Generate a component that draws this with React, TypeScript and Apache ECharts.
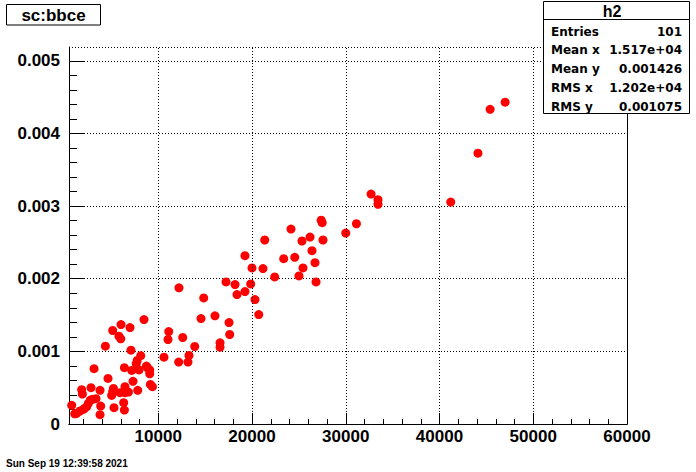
import React, { useEffect, useRef } from "react";
import * as echarts from "echarts";

const xValues = [
  47000, 45400, 44100, 41200, 32700, 33440, 33440, 31140, 30000, 27380,
  27490, 24160, 21360, 25330, 26190, 27570, 26400, 23380, 24560, 19250,
  25440, 26720, 21170, 20000, 22420, 25010, 26830, 17230, 18190, 19860,
  12210, 19250, 18400, 20320, 14850, 20720, 14560, 16050, 17550, 17620,
  11120, 11040, 12610, 13890, 16590, 16590, 10610, 12180, 13280, 13170,
  8480, 6030, 6990, 5140, 5810, 6000, 4360, 7090, 8130, 7750,
  7650, 3150, 6390, 7170, 7950, 8740, 9090, 9090, 4640, 7310,
  1830, 1910, 2830, 3790, 5220, 5140, 5030, 6450, 6450, 5920,
  6820, 7810, 9160, 9380, 3360, 2760, 2550, 2370, 2020, 1650,
  1300, 770, 3860, 5280, 6310, 6390, 3790, 1090, 2150, 3010, 8870,
];

const yValues = [
  0.00443, 0.004332, 0.003728, 0.003055, 0.003165, 0.003087, 0.003025, 0.002757, 0.002629, 0.002805,
  0.002771, 0.002684, 0.002533, 0.002519, 0.002574, 0.002533, 0.002386, 0.002276, 0.002294, 0.002317,
  0.002148, 0.002221, 0.002139, 0.002148, 0.002025, 0.002038, 0.001956, 0.001956, 0.001919, 0.001929,
  0.001874, 0.001823, 0.001782, 0.001713, 0.001736, 0.001507, 0.001452, 0.001489, 0.001397, 0.001232,
  0.001273, 0.001163, 0.001191, 0.001067, 0.001118, 0.001058, 0.00092, 0.000852, 0.000944, 0.000852,
  0.001438, 0.001369, 0.001328, 0.001287, 0.001209, 0.001173, 0.001071, 0.001016, 0.00094, 0.000875,
  0.00083, 0.000761, 0.000775, 0.000738, 0.000745, 0.000797, 0.000745, 0.000692, 0.000628, 0.000587,
  0.000473, 0.000412, 0.0005, 0.000463, 0.00049, 0.000445, 0.000394, 0.000514, 0.000431, 0.000431,
  0.00044, 0.000463, 0.000545, 0.000514, 0.000349, 0.00033, 0.000284, 0.000239, 0.000202, 0.000179,
  0.000147, 0.000257, 0.000247, 0.000225, 0.000294, 0.000192, 0.000129, 0.00014, 0.000216, 0.000339, 0.000772,
];

const X_MIN = 480;
const X_MAX = 60000;
const Y_MIN = 0;
const Y_MAX = 0.00519;
const Y_GRID_INTERVAL = 0.001;

const xMajorTicks = [10000, 20000, 30000, 40000, 50000, 60000];
const xMinorTicks = [
  2000, 4000, 6000, 8000, 12000, 14000, 16000, 18000, 22000, 24000, 26000, 28000,
  32000, 34000, 36000, 38000, 42000, 44000, 46000, 48000, 52000, 54000, 56000, 58000,
];
const yMajorTicks = [0, 0.001, 0.002, 0.003, 0.004, 0.005];
const yMinorTicks = [
  0.0002, 0.0004, 0.0006, 0.0008, 0.0012, 0.0014, 0.0016, 0.0018, 0.0022, 0.0024, 0.0026, 0.0028,
  0.0032, 0.0034, 0.0036, 0.0038, 0.0042, 0.0044, 0.0046, 0.0048,
];
const xGridLines = [10000, 20000, 30000, 40000, 50000];

const titleText = "sc:bbce";
const statsTitle = "h2";
const statsLabels = ["Entries", "Mean x", "Mean y", "RMS x", "RMS y"];
const statsValues = ["101", "1.517e+04", "0.001426", "1.202e+04", "0.001075"];
const dateText = "Sun Sep 19 12:39:58 2021";

const FONT = "Liberation Sans";
const DOT = { color: "#000", width: 1, type: [1, 2] as number[] };

export default function App() {
  const ref = useRef<HTMLDivElement>(null);

  useEffect(() => {
    document.body.style.margin = "0";
    if (!ref.current) return;
    const chart = echarts.init(ref.current, undefined, { renderer: "svg" });

    const labelStyle = {
      color: "#000",
      fontFamily: FONT,
      fontWeight: "bold" as const,
      fontSize: 17,
    };

    const statsRows: any[] = [];
    statsLabels.forEach((lab, i) => {
      const cy = 31.5 + i * 18.9;
      statsRows.push({
        type: "text",
        x: 551,
        y: cy,
        z: 101,
        style: {
          text: lab,
          fontFamily: "DejaVu Sans",
          fontWeight: "bold",
          fontSize: 12,
          fill: "#000",
          align: "left",
          verticalAlign: "middle",
        },
      });
      statsRows.push({
        type: "text",
        x: 682,
        y: cy,
        z: 101,
        style: {
          text: statsValues[i],
          fontFamily: "DejaVu Sans",
          fontWeight: "bold",
          fontSize: 12,
          fill: "#000",
          align: "right",
          verticalAlign: "middle",
        },
      });
    });

    const hidden = {
      axisLine: { show: false },
      axisTick: { show: false },
      axisLabel: { show: false },
      splitLine: { show: false },
    };

    chart.setOption({
      animation: false,
      backgroundColor: "#fff",
      grid: { left: 69, right: 69, top: 47, bottom: 48, show: false },
      xAxis: [
        {
          type: "value",
          position: "bottom",
          min: X_MIN,
          max: X_MAX,
          axisLine: { show: true, lineStyle: { color: "#000", width: 1 } },
          axisTick: { show: true, inside: true, length: 11, customValues: xMajorTicks, lineStyle: { color: "#000" } },
          axisLabel: {
            ...labelStyle,
            customValues: xMajorTicks,
            margin: 4,
            formatter: (v: number) => String(v),
          },
          splitLine: { show: false },
        },
        {
          type: "value",
          position: "bottom",
          min: X_MIN,
          max: X_MAX,
          ...hidden,
          axisTick: { show: true, inside: true, length: 5, customValues: xMinorTicks, lineStyle: { color: "#000" } },
        },
        {
          type: "value",
          position: "top",
          min: X_MIN,
          max: X_MAX,
          ...hidden,
          axisLine: { show: true, lineStyle: { color: "#000", width: 1 } },
        },
      ],
      yAxis: [
        {
          type: "value",
          position: "left",
          min: Y_MIN,
          max: Y_MAX,
          axisLine: { show: true, lineStyle: { color: "#000", width: 1 } },
          axisTick: { show: true, inside: true, length: 16, customValues: yMajorTicks, lineStyle: { color: "#000" } },
          axisLabel: {
            ...labelStyle,
            customValues: yMajorTicks,
            margin: 9,
            formatter: (v: number) => (v === 0 ? "0" : v.toFixed(3)),
          },
          splitLine: { show: false },
        },
        {
          type: "value",
          position: "left",
          min: Y_MIN,
          max: Y_MAX,
          ...hidden,
          axisTick: { show: true, inside: true, length: 8, customValues: yMinorTicks, lineStyle: { color: "#000" } },
        },
        {
          type: "value",
          position: "right",
          min: Y_MIN,
          max: Y_MAX,
          ...hidden,
          axisLine: { show: true, lineStyle: { color: "#000", width: 1 } },
        },
        {
          type: "value",
          position: "left",
          min: Y_MIN,
          max: Y_MAX,
          interval: Y_GRID_INTERVAL,
          ...hidden,
          splitLine: { show: true, lineStyle: DOT },
        },
      ],
      series: [
        {
          type: "line",
          xAxisIndex: 0,
          yAxisIndex: 0,
          data: [],
          z: 1,
          silent: true,
          markLine: {
            silent: true,
            symbol: ["none", "none"],
            label: { show: false },
            lineStyle: DOT,
            data: xGridLines.map((v) => ({ xAxis: v })),
          },
        },
        {
          type: "scatter",
          xAxisIndex: 0,
          yAxisIndex: 0,
          z: 3,
          clip: false,
          symbol: "circle",
          symbolSize: 9,
          itemStyle: { color: "#ff0000", opacity: 1 },
          data: xValues.map((x, i) => [x, yValues[i]]),
        },
      ],
      graphic: [
        {
          type: "rect",
          z: 100,
          shape: { x: 6.5, y: 4.5, width: 94, height: 20.5 },
          style: { fill: "#fff", stroke: "#000", lineWidth: 1 },
        },
        {
          type: "text",
          z: 101,
          x: 53.5,
          y: 15,
          style: {
            text: titleText,
            fontFamily: FONT,
            fontWeight: "bold",
            fontSize: 17,
            fill: "#000",
            align: "center",
            verticalAlign: "middle",
          },
        },
        {
          type: "rect",
          z: 100,
          shape: { x: 543.5, y: 1.5, width: 146, height: 112 },
          style: { fill: "#fff", stroke: "#000", lineWidth: 1 },
        },
        {
          type: "line",
          z: 101,
          shape: { x1: 543.5, y1: 19.5, x2: 689.5, y2: 19.5 },
          style: { stroke: "#000", lineWidth: 1 },
        },
        {
          type: "text",
          z: 101,
          x: 612,
          y: 11,
          style: {
            text: statsTitle,
            fontFamily: FONT,
            fontWeight: "bold",
            fontSize: 16,
            fill: "#000",
            align: "center",
            verticalAlign: "middle",
          },
        },
        ...statsRows,
        {
          type: "text",
          z: 101,
          x: 6,
          y: 463,
          style: {
            text: dateText,
            fontFamily: FONT,
            fontWeight: "bold",
            fontSize: 10,
            fill: "#000",
            align: "left",
            verticalAlign: "middle",
          },
        },
      ],
    });

    return () => {
      chart.dispose();
    };
  }, []);

  return <div ref={ref} style={{ width: 696, height: 472 }} />;
}
